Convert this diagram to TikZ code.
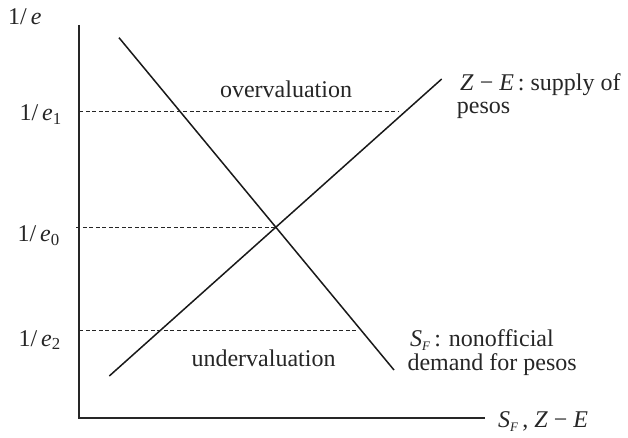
\documentclass[tikz,border=0pt]{standalone}
\usepackage{fontspec}
\setmainfont{Liberation Serif}
\usetikzlibrary{calc,intersections}
\newcommand{\subF}{\raisebox{-4pt}{\fontsize{13}{13}\selectfont\textit{F}}}

\begin{document}
\begin{tikzpicture}[x=1pt,y=1pt,
  axis/.style={line width=2pt,black!85},
  curve/.style={line width=1.5pt,black!90},
  guide/.style={line width=0.9pt,black!85,dash pattern=on 4pt off 2.5pt},
  lbl/.style={font=\fontsize{24}{22}\selectfont,text=black!85,inner sep=0pt}]
\useasboundingbox (0,0) rectangle (628,437);
% axes
\coordinate (O) at (79.3,18.7);
\coordinate (ytop) at (79.3,412);
\coordinate (xend) at (485,18.7);
\draw[axis] (ytop) -- (O) -- (xend);
% demand and supply
\coordinate (dTop) at (119,399.3);
\coordinate (dBot) at (394,67);
\coordinate (sBot) at (109.3,61);
\coordinate (sTop) at (441.7,358);
\draw[curve,name path=demand] (dTop) -- (dBot);
\draw[curve,name path=supply] (sBot) -- (sTop);
\path[name intersections={of=demand and supply,by=eq}];
% rates
\coordinate (e1L) at (79.3,325.5);
\coordinate (e1R) at (398,325.5);
\coordinate (e2L) at (79.3,107);
\coordinate (e2R) at (356,107);
\coordinate (e0L) at ($(eq -| O)+(-3,0)$);
\draw[guide] (e1L) -- (e1R);
\draw[guide] (e0L) -- (eq);
\draw[guide] (e2L) -- (e2R);
% labels
\node[lbl,anchor=base west] (ylab) at (8,412) {1/\,\textit{e}};
\node[lbl,anchor=base east] (e1lab) at (62,316.3) {1/\,\textit{e}\textsubscript{1}};
\node[lbl,anchor=base east] (e0lab) at (60,195.3) {1/\,\textit{e}\textsubscript{0}};
\node[lbl,anchor=base east] (e2lab) at (61,91) {1/\,\textit{e}\textsubscript{2}};
\node[lbl,anchor=base] (over) at (286,339) {overvaluation};
\node[lbl,anchor=base] (under) at (263.5,71) {undervaluation};
\node[lbl,anchor=base west] (zlab) at (460,346.3) {\textit{Z} − \textit{E}\,: supply of};
\node[lbl,anchor=base west] (zlab2) at (456.7,323) {pesos};
\node[lbl,anchor=base west] (sflab) at (410,90.5) {\textit{S}\subF\hspace{4pt}: nonofficial};
\node[lbl,anchor=base west] (sflab2) at (407.3,66.5) {demand for pesos};
\node[lbl,anchor=base west] (xlab) at (498,9.3) {\textit{S}\subF\,, \textit{Z} − \textit{E}};
\end{tikzpicture}
\end{document}
